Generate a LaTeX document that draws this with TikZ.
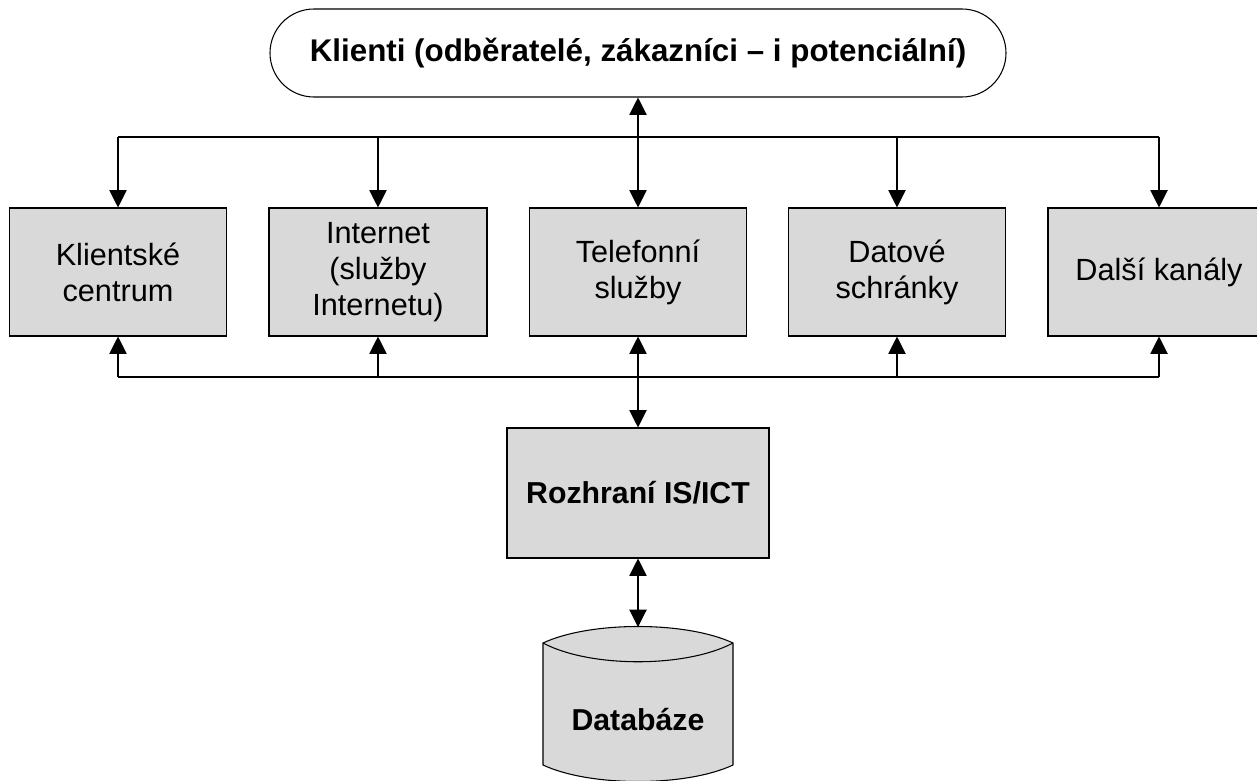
\documentclass[tikz,border=0pt]{standalone}
\usepackage{fontspec}
\setmainfont{Liberation Sans}
\usetikzlibrary{arrows.meta}
\definecolor{boxgray}{HTML}{D9D9D9}
\begin{document}
\begin{tikzpicture}[x=0.75pt,y=-0.75pt,
  chbox/.style={draw=black, line width=0.8pt, fill=boxgray, minimum width=217*0.75pt, minimum height=128*0.75pt, inner sep=0pt, align=center, font=\fontsize{23}{27}\selectfont},
  boldtext/.style={font=\bfseries\fontsize{22.7}{27}\selectfont},
  conn/.style={line width=0.8pt, draw=black},
  tip/.style={-{Triangle[width=13pt,length=13pt]}},
  dtip/.style={{Triangle[width=13pt,length=13pt]}-{Triangle[width=13pt,length=13pt]}}]
\useasboundingbox (0,0) rectangle (1257,781);
% top stadium
\node (kl) at (638,53) [draw=black, line width=0.8pt, fill=white, rounded corners=33pt, minimum width=736*0.75pt, minimum height=88*0.75pt, inner sep=0pt, font=\bfseries\fontsize{23.5}{27}\selectfont] {Klienti (odběratelé, zákazníci – i potenciální)};
% channel boxes
\node (b1) at (118,272) [chbox] {Klientské\\centrum};
\node (b2) at (378,272) [chbox, minimum width=218*0.75pt] {Internet\\(služby\\Internetu)};
\node (b3) at (638,272) [chbox] {Telefonní\\služby};
\node (b4) at (897,272) [chbox] {Datové\\schránky};
\node (b5) at (1159,272) [chbox, minimum width=222*0.75pt] {Další kanály};
% interface
\node (rz) at (638,493) [chbox, minimum width=262*0.75pt, minimum height=130*0.75pt, boldtext] {Rozhraní IS/ICT};
% database cylinder
\coordinate (dbtl) at (543,643);
\coordinate (dbtr) at (733,643);
\coordinate (dbbl) at (543,765);
\coordinate (dbbr) at (733,765);
\fill[boxgray] (dbtl) .. controls (590,621) and (686,621) .. (dbtr) -- (dbbr) .. controls (686,787) and (590,787) .. (dbbl) -- cycle;
\draw[conn] (dbtl) .. controls (590,621) and (686,621) .. (dbtr) -- (dbbr) .. controls (686,787) and (590,787) .. (dbbl) -- cycle;
\draw[conn] (dbtl) .. controls (590,668) and (686,668) .. (dbtr);
\coordinate (dbtop) at (638,627);
\node (db) at (638,720) [boldtext] {Databáze};
% top bus
\coordinate (tb1) at (118,137);
\coordinate (tb5) at (1159,137);
\draw[conn] (tb1) -- (tb5);
\draw[conn,tip] (tb1) -- (b1.north);
\draw[conn,tip] (378,137) -- (b2.north);
\draw[conn,tip] (897,137) -- (b4.north);
\draw[conn,tip] (tb5) -- (b5.north);
\draw[conn,dtip] (kl.south) -- (b3.north);
% bottom bus
\coordinate (bb1) at (118,377);
\coordinate (bb5) at (1159,377);
\draw[conn] (bb1) -- (bb5);
\draw[conn,tip] (bb1) -- (b1.south);
\draw[conn,tip] (378,377) -- (b2.south);
\draw[conn,tip] (897,377) -- (b4.south);
\draw[conn,tip] (bb5) -- (b5.south);
\draw[conn,dtip] (b3.south) -- (rz.north);
\draw[conn,dtip] (rz.south) -- (dbtop);
\end{tikzpicture}
\end{document}
